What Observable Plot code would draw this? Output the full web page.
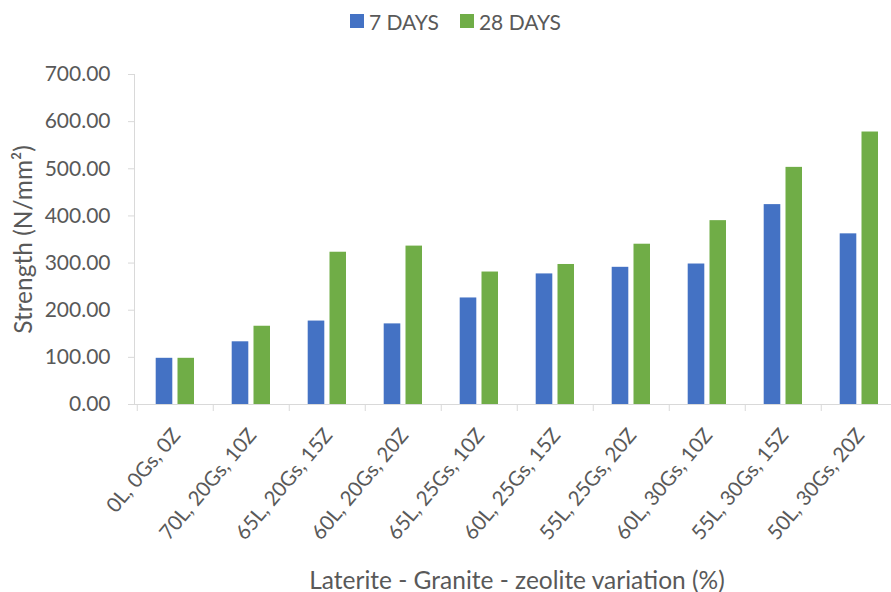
<!DOCTYPE html>
<html>
<head>
<meta charset="utf-8">
<script src="https://cdn.jsdelivr.net/npm/d3@7"></script>
<script src="https://cdn.jsdelivr.net/npm/@observablehq/plot@0.6"></script>
<style>
  body { margin: 0; background: #fff; font-family: Lato, "Open Sans", sans-serif; color: #595959; }
  #legend { height: 42px; display: flex; align-items: center; padding-left: 350px; box-sizing: border-box; font-size: 21px; }
  .item { display: flex; align-items: center; margin-right: 21px; }
  .sw { width: 14px; height: 14px; margin-right: 5px; }
  #chart svg { display: block; }
</style>
</head>
<body>
<div id="legend"></div>
<div id="chart"></div>
<script>
const categories = [
  "0L, 0Gs, 0Z", "70L, 20Gs, 10Z", "65L, 20Gs, 15Z", "60L, 20Gs, 20Z", "65L, 25Gs, 10Z",
  "60L, 25Gs, 15Z", "55L, 25Gs, 20Z", "60L, 30Gs, 10Z", "55L, 30Gs, 15Z", "50L, 30Gs, 20Z"
];
const seriesNames = ["7 DAYS", "28 DAYS"];
const days7 = [98, 133, 177, 171, 226, 277, 291, 298, 424, 362];
const days28 = [98, 166, 323, 336, 281, 297, 340, 390, 503, 578];
const yTicks = [0, 100, 200, 300, 400, 500, 600, 700];
const colors = ["#4472C4", "#70AD47"];
const xTitle = "Laterite - Granite - zeolite variation (%)";
const yTitle = "Strength (N/mm²)";

const legend = document.getElementById("legend");
seriesNames.forEach((s, i) => {
  const it = document.createElement("div");
  it.className = "item";
  it.innerHTML = `<div class="sw" style="background:${colors[i]}"></div><span>${s}</span>`;
  legend.appendChild(it);
});

const rows7 = categories.map((c, i) => ({category: c, series: seriesNames[0], value: days7[i]}));
const rows28 = categories.map((c, i) => ({category: c, series: seriesNames[1], value: days28[i]}));

const width = 891, height = 550;
const marginLeft = 134, marginRight = -8;
const step = (width - marginRight - marginLeft) / categories.length;

const chart = Plot.plot({
  width, height,
  marginLeft, marginRight,
  marginTop: 32, marginBottom: 188,
  style: {fontFamily: "Lato, 'Open Sans', sans-serif", color: "#595959", background: "#fff"},
  x: {domain: categories, padding: 0, axis: null},
  y: {domain: [0, 700], axis: null},
  marks: [
    Plot.ruleY([0], {stroke: "#d9d9d9", strokeWidth: 1}),
    Plot.frame({anchor: "left", stroke: "#d9d9d9"}),
    Plot.axisY({ticks: yTicks, tickFormat: d => d.toFixed(2), tickSize: 6, tickPadding: 18,
      stroke: "#d9d9d9", fill: "#595959", fontSize: 21, label: null}),
    Plot.ruleX(categories, {x: d => d, y1: 0, y2: 0, insetBottom: -7, dx: -step / 2, stroke: "#d9d9d9"}),
    Plot.barY(rows7, {x: "category", y: "value", fill: colors[0], insetLeft: 18.7, insetRight: 40.7}),
    Plot.barY(rows28, {x: "category", y: "value", fill: colors[1], insetLeft: 40.5, insetRight: 19}),
    Plot.axisX({tickSize: 0, tickPadding: 27, tickRotate: -50, dx: 1, fontSize: 20.5, fill: "#595959", label: null}),
    Plot.text([xTitle], {frameAnchor: "bottom", lineAnchor: "bottom", dy: 184, fontSize: 24.5, fill: "#595959"}),
    Plot.text([yTitle], {frameAnchor: "left", textAnchor: "middle", lineAnchor: "bottom", rotate: -90, dx: -103, fontSize: 24.5, fill: "#595959"})
  ]
});
document.getElementById("chart").appendChild(chart);
</script>
</body>
</html>
